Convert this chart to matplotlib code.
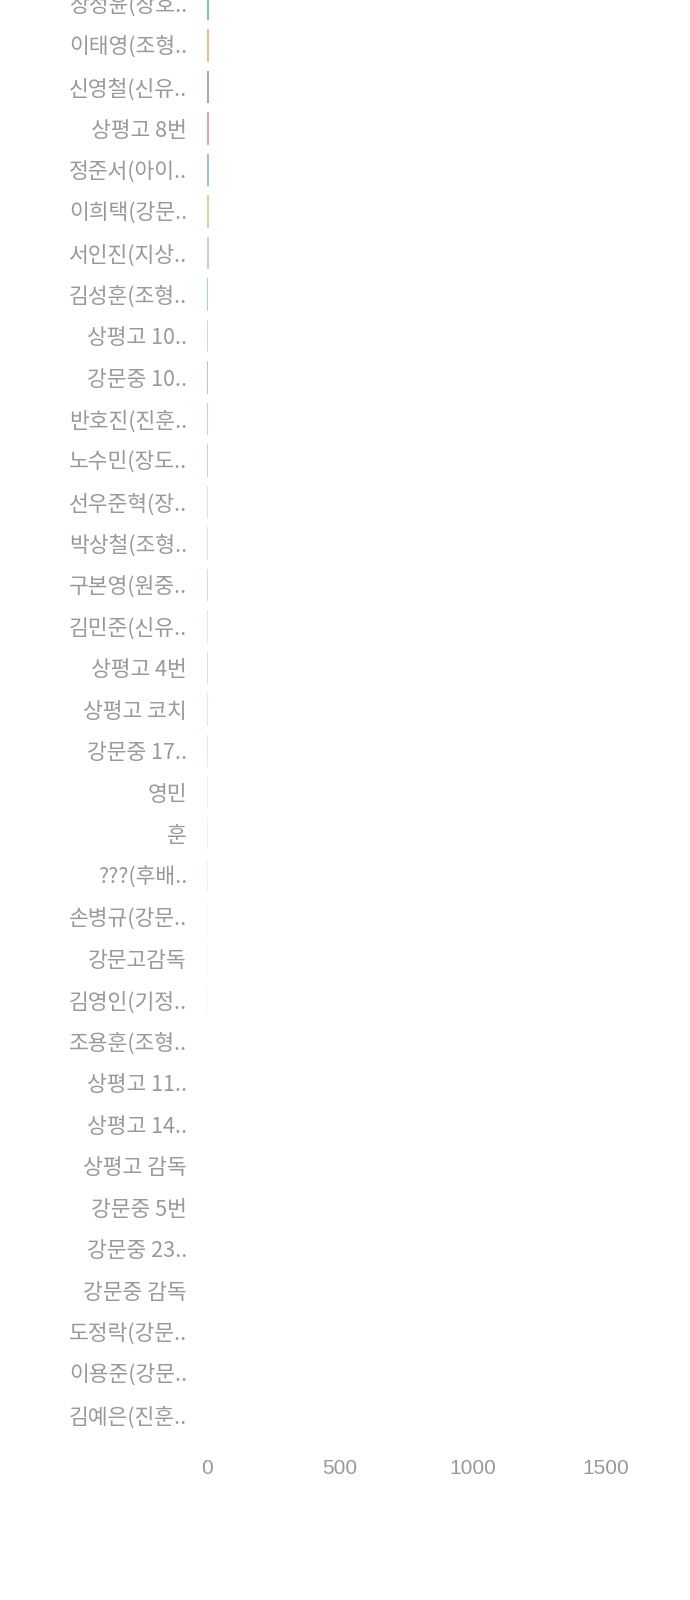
import matplotlib
matplotlib.use('Agg')
import matplotlib.pyplot as plt
from matplotlib.colors import to_rgba

plt.rcParams['font.family'] = ['Noto Sans CJK KR', 'DejaVu Sans']

# row labels, top to bottom (chart is the lower slice of a long ranking)
names = ['장정윤(장호..', '이태영(조형..', '신영철(신유..', '상평고 8번', '정준서(아이..',
         '이희택(강문..', '서인진(지상..', '김성훈(조형..', '상평고 10..', '강문중 10..',
         '반호진(진훈..', '노수민(장도..', '선우준혁(장..', '박상철(조형..', '구본영(원중..',
         '김민준(신유..', '상평고 4번', '상평고 코치', '강문중 17..', '영민',
         '훈', '???(후배..', '손병규(강문..', '강문고감독', '김영인(기정..',
         '조용훈(조형..', '상평고 11..', '상평고 14..', '상평고 감독', '강문중 5번',
         '강문중 23..', '강문중 감독', '도정락(강문..', '이용준(강문..', '김예은(진훈..']

# values (tiny compared with the axis range)
values = [9, 9, 8, 8, 8, 8, 8, 7, 7, 7, 7, 7, 6, 6, 6, 6, 6, 6, 5, 5,
          5, 5, 5, 5, 4, 4, 4, 4, 4, 3, 3, 3, 3, 3, 3]

xticks = [0, 500, 1000, 1500]

palette = ['#3dbb9f', '#f0a060', '#6c7fd4', '#e2737f', '#5f9ee0', '#a4c25a', '#a8a8b4']

fig = plt.figure(figsize=(6.9, 16), dpi=100)
ax = fig.add_axes([0.2993, 0.1027, 0.5790, 0.9078])

n = len(names)
ypos = list(range(n))
colors = []
for i in range(n):
    a = max(0.0, 0.75 - 0.03 * i)
    colors.append(to_rgba(palette[i % 7], a))

ax.barh(ypos, values, height=0.78, color=colors, edgecolor='none')

ax.set_ylim(n - 0.5, -0.5)
ax.set_xlim(0, 1500)
ax.set_yticks(ypos)
ax.set_yticklabels(names)
ax.set_xticks(xticks)
ax.set_xticklabels([str(t) for t in xticks], family=['Liberation Sans', 'DejaVu Sans'])

ax.tick_params(axis='y', length=0, pad=14, labelsize=15.5, labelcolor='#999999')
ax.tick_params(axis='x', length=0, pad=17, labelsize=15, labelcolor='#999999')
for s in ax.spines.values():
    s.set_visible(False)

fig.savefig('out.png', dpi=100, facecolor='white')
